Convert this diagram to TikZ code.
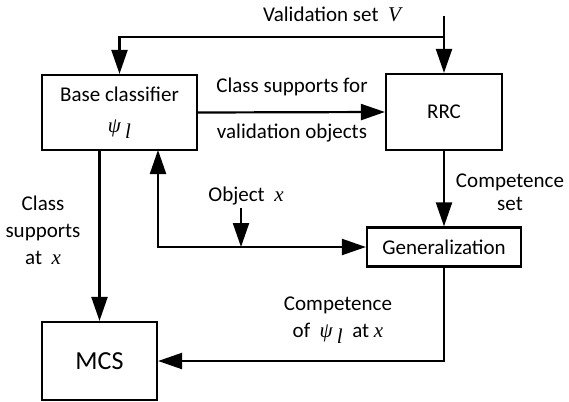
\documentclass[tikz,border=0pt]{standalone}
\usepackage{fontspec}
\setmainfont{Carlito}
\newfontfamily\tms{Liberation Serif}
\usetikzlibrary{arrows.meta}
\newcommand{\mv}[1]{{\tms\itshape #1}}
\newcommand{\psil}{{\tms\itshape ψ\hspace{0.2em}\raisebox{-0.6ex}{l}}}
\begin{document}
\begin{tikzpicture}[x=1pt,y=-1pt,
  box/.style={draw,line width=2.2pt,inner sep=0pt,align=center,font=\fontsize{21}{33}\selectfont},
  arr/.style={line width=2.2pt,-{Triangle[length=24pt,width=16pt]}},
  lbl/.style={inner sep=0pt,align=center,font=\fontsize{21}{27}\selectfont}]
\useasboundingbox (0,0) rectangle (569,401);
% boxes
\node[box,minimum width=155pt,minimum height=75pt] (base) at (119.5,112.5) {Base classifier\\[-2pt]\psil};
\node[box,minimum width=116pt,minimum height=76pt] (rrc) at (444,112) {RRC};
\node[box,minimum width=154pt,minimum height=39pt] (gen) at (444,247) {Generalization};
\node[box,minimum width=115pt,minimum height=78pt,font=\fontsize{26}{30}\selectfont] (mcs) at (99.5,361) {MCS};
% coordinates
\coordinate (vtop) at (444,16);
\coordinate (vj) at (444,37);
\coordinate (otop) at (241,208);
\coordinate (oj) at (241,247);
\coordinate (bup) at (158,150);
% connectors
\draw[arr] (vtop) -- (rrc.north);
\draw[arr] (vj) -| (base.north);
\draw[arr] (base.east) -- (rrc.west);
\draw[arr] (rrc.south) -- (gen.north);
\draw[arr] (mcs.north |- base.south) -- (mcs.north);
\draw[arr] (otop) -- (oj);
\draw[arr] (oj) -- (gen.west);
\draw[arr] (oj) -| (bup);
\draw[arr] (gen.south) |- (mcs.east);
% labels
\node[lbl] (lv) at (332,14) {Validation set \ \mv{V}};
\node[lbl] (lc1) at (292,87) {Class supports for};
\node[lbl] (lc2) at (292,133) {validation objects};
\node[lbl] (lcs1) at (510,182) {Competence};
\node[lbl] (lcs2) at (510,204) {set};
\node[lbl] (lo) at (246,196) {Object \ \mv{x}};
\node[lbl] (lcl) at (43,230) {Class\\supports\\at \ \mv{x}};
\node[lbl] (lcp1) at (338,305) {Competence};
\node[lbl] (lcp2) at (338,333) {of \ \psil \ \ at \mv{x}};
\end{tikzpicture}
\end{document}
